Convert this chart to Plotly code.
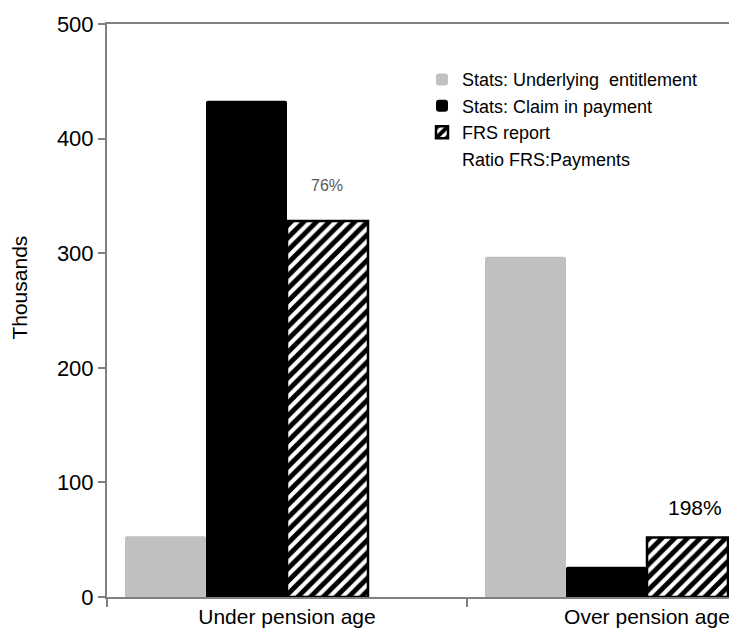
import plotly.graph_objs as go

# DATA
categories = ['Under pension age', 'Over pension age']
underlying = [53, 297]
in_payment = [433, 26.5]
frs_report = [328, 52]
ratio_labels = ['76%', '198%']

FONT = 'Liberation Sans, Arial, sans-serif'

fig = go.Figure()

fig.add_trace(go.Bar(
    x=categories, y=underlying, name='Stats: Underlying  entitlement',
    marker=dict(color='#C0C0C0', line=dict(width=0), cornerradius=2),
))
fig.add_trace(go.Bar(
    x=categories, y=in_payment, name='Stats: Claim in payment',
    marker=dict(color='#000000', line=dict(width=0), cornerradius=2),
))
fig.add_trace(go.Bar(
    x=categories, y=frs_report, name='FRS report',
    marker=dict(
        color='#FFFFFF',
        line=dict(color='#000000', width=2.5),
        pattern=dict(shape='/', fgcolor='#000000', bgcolor='#FFFFFF', fgopacity=1,
                     size=9, solidity=0.55),
    ),
))
# invisible series, only keeps its slot in each group and its legend entry
fig.add_trace(go.Bar(
    x=categories, y=[0, 0], name='Ratio FRS:Payments',
    marker=dict(color='rgba(0,0,0,0)', line=dict(width=0)),
    hoverinfo='skip',
))

# ratio labels above the FRS bars
label_fonts = [dict(size=16, color='#595959'), dict(size=21, color='#000000')]
label_shift = [(40, 36), (48, 30)]
for cat, val, txt, fnt, (dx, dy) in zip(categories, frs_report, ratio_labels, label_fonts, label_shift):
    fig.add_annotation(
        x=cat, y=val, text=txt, showarrow=False,
        xshift=dx, yshift=dy, font=dict(family=FONT, **fnt),
    )

# y axis title, set a little above the middle as in the original
fig.add_annotation(
    xref='paper', yref='paper', x=0, y=0.54, xshift=-87,
    xanchor='center', yanchor='middle',
    text='Thousands', textangle=-90, showarrow=False,
    font=dict(family=FONT, size=21, color='#000000'),
)

# page body adds an 8px offset, so the figure is 8px smaller than the window
fig.update_layout(
    width=729, height=634,
    margin=dict(l=99, r=0, t=16, b=45),
    paper_bgcolor='white', plot_bgcolor='white',
    barmode='group', bargap=0.1, bargroupgap=0,
    font=dict(family=FONT, size=20, color='#000000'),
    showlegend=True,
    legend=dict(
        x=0.5, y=0.935, xanchor='left', yanchor='top',
        font=dict(family=FONT, size=18, color='#000000'),
        itemwidth=30, tracegroupgap=0, bgcolor='rgba(0,0,0,0)',
    ),
    xaxis=dict(
        type='category', range=[-0.5, 1.25], automargin=False,
        showline=True, linecolor='#808080', linewidth=2, mirror=True,
        ticks='outside', tickson='boundaries', ticklen=8, tickwidth=2, tickcolor='#808080',
        showgrid=False, zeroline=False,
        tickfont=dict(family=FONT, size=21, color='#000000'),
    ),
    yaxis=dict(
        range=[0, 500], dtick=100, automargin=False,
        showline=True, linecolor='#808080', linewidth=2,
        ticks='outside', ticklen=7, tickwidth=2, tickcolor='#808080',
        showgrid=False, zeroline=False,
        tickfont=dict(family=FONT, size=22, color='#000000'),
    ),
)

fig.write_html("out.html")
